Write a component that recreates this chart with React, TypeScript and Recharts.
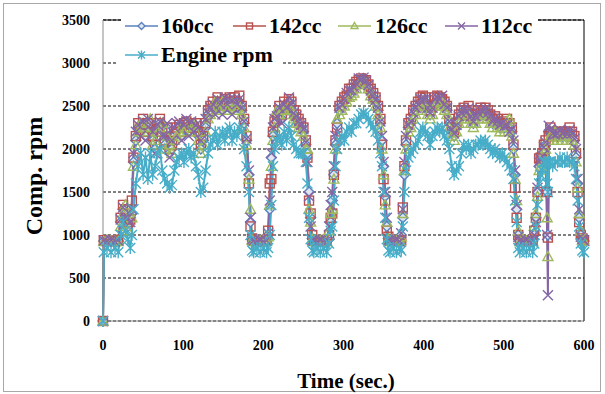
import React from 'react';
import { LineChart, Line, XAxis, YAxis, CartesianGrid, ReferenceLine } from 'recharts';

// time axis (sec.), denser around the ramps
const timeSec = [
  0, 1, 5, 10, 15, 19, 22, 25, 28, 31,
  34, 36, 38, 41, 44, 47, 50, 53, 56, 59,
  62, 65, 68, 71, 74, 77, 80, 83, 86, 89,
  92, 95, 98, 101, 104, 107, 110, 113, 116, 119,
  122, 125, 128, 131, 134, 137, 140, 143, 146, 149,
  152, 155, 158, 161, 164, 167, 170, 173, 176, 179,
  182, 184, 186, 188, 192, 196, 200, 204, 206, 208,
  210, 212, 214, 217, 220, 223, 226, 229, 232, 235,
  238, 241, 244, 247, 250, 253, 255, 257, 259, 261,
  263, 267, 271, 275, 279, 282, 284, 286, 288, 290,
  292, 295, 298, 301, 304, 307, 310, 313, 316, 319,
  322, 325, 328, 331, 334, 337, 340, 343, 346, 348,
  350, 352, 354, 356, 358, 362, 366, 370, 372, 374,
  376, 378, 381, 384, 387, 390, 393, 396, 399, 402,
  405, 408, 411, 414, 417, 420, 423, 426, 429, 432,
  435, 438, 441, 444, 447, 450, 453, 456, 459, 462,
  465, 468, 471, 474, 477, 480, 483, 486, 489, 492,
  495, 498, 501, 504, 507, 510, 512, 514, 516, 518,
  520, 524, 528, 532, 536, 538, 540, 542, 544, 546,
  548, 550, 552, 554, 555, 556, 558, 561, 564, 567,
  570, 573, 576, 579, 582, 585, 588, 590, 592, 594,
  596, 598, 600,
];

const comp160 = [
  0, 930, 935, 925, 940, 930, 1150, 1300, 1250, 1100,
  1200, 1250, 1850, 2100, 2250, 2200, 2300, 2150, 2250, 2300,
  2100, 2000, 2250, 2300, 2250, 2050, 2200, 1950, 2000, 2150,
  2200, 2250, 2150, 2250, 2300, 2200, 2250, 2300, 2250, 2150,
  2000, 2100, 2250, 2400, 2450, 2500, 2450, 2550, 2500, 2450,
  2550, 2500, 2550, 2450, 2550, 2500, 2550, 2450, 2300, 2100,
  1700, 1150, 950, 930, 935, 925, 940, 930, 1000, 1300,
  1900, 2150, 2300, 2400, 2450, 2350, 2500, 2450, 2550, 2500,
  2400, 2350, 2300, 2250, 2200, 2050, 1950, 1500, 1200, 960,
  930, 935, 925, 940, 930, 950, 1150, 1400, 1700, 2050,
  2300, 2450, 2500, 2550, 2600, 2650, 2650, 2700, 2750, 2780,
  2800, 2820, 2780, 2720, 2650, 2600, 2550, 2450, 2300, 2100,
  1800, 1450, 1100, 960, 930, 935, 925, 940, 1000, 1200,
  1700, 2050, 2250, 2300, 2400, 2450, 2500, 2550, 2600, 2550,
  2450, 2400, 2450, 2550, 2600, 2550, 2600, 2500, 2450, 2300,
  2200, 2150, 2250, 2350, 2400, 2450, 2400, 2450, 2350, 2300,
  2350, 2400, 2450, 2400, 2450, 2400, 2350, 2300, 2350, 2300,
  2250, 2300, 2250, 2300, 2250, 2200, 2000, 1700, 1300, 1000,
  930, 935, 925, 940, 930, 1000, 1200, 1500, 1800, 1850,
  1900, 2000, 2050, 1500, 1000, 2200, 2200, 2150, 2200, 2150,
  2200, 2150, 2180, 2150, 2200, 2150, 2100, 1900, 1600, 1200,
  1000, 950, 930,
];

const comp142 = [
  0, 940, 930, 935, 930, 945, 1200, 1350, 1300, 1150,
  1180, 1400, 1900, 2150, 2300, 2250, 2350, 2200, 2300, 2250,
  2150, 2050, 2300, 2350, 2200, 2100, 2250, 2000, 2050, 2200,
  2250, 2280, 2200, 2300, 2320, 2250, 2300, 2250, 2300, 2200,
  2050, 2150, 2300, 2450, 2500, 2550, 2500, 2600, 2550, 2500,
  2580, 2550, 2600, 2500, 2600, 2550, 2620, 2500, 2350, 2150,
  1600, 1100, 960, 940, 930, 935, 930, 945, 1050, 1600,
  1650, 2200, 2320, 2350, 2500, 2400, 2550, 2500, 2580, 2550,
  2450, 2400, 2350, 2300, 2250, 2100, 1900, 1400, 1250, 1000,
  940, 930, 935, 930, 945, 1000, 1200, 1250, 1700, 2100,
  2250, 2500, 2550, 2600, 2620, 2700, 2700, 2750, 2780, 2800,
  2820, 2800, 2800, 2750, 2700, 2650, 2600, 2500, 2350, 2050,
  1650, 1400, 1050, 980, 940, 930, 935, 930, 940, 1320,
  1800, 2100, 2300, 2350, 2450, 2500, 2550, 2600, 2620, 2600,
  2500, 2450, 2500, 2600, 2620, 2600, 2580, 2550, 2500, 2350,
  2250, 2200, 2300, 2400, 2450, 2480, 2450, 2500, 2400, 2350,
  2400, 2450, 2480, 2450, 2480, 2450, 2400, 2350, 2380, 2350,
  2300, 2320, 2300, 2350, 2300, 2250, 2050, 1550, 1200, 1000,
  940, 930, 935, 930, 945, 1050, 1200, 1500, 1890, 1900,
  1950, 2050, 2100, 1500, 970, 2150, 2250, 2200, 2150, 2200,
  2180, 2200, 2200, 2200, 2250, 2200, 2150, 1950, 1500, 1150,
  1000, 960, 940,
];

const comp126 = [
  0, 925, 940, 930, 935, 925, 1100, 1250, 1350, 1050,
  1250, 1200, 1800, 2050, 2200, 2300, 2250, 2250, 2200, 2350,
  2050, 2100, 2200, 2250, 2300, 2000, 2150, 2050, 1950, 2100,
  2150, 2200, 2250, 2200, 2250, 2300, 2200, 2280, 2200, 2100,
  1950, 2050, 2200, 2350, 2400, 2450, 2550, 2500, 2450, 2550,
  2500, 2450, 2500, 2550, 2500, 2450, 2500, 2400, 2250, 2050,
  1650, 1300, 940, 925, 940, 930, 935, 925, 980, 1350,
  1800, 2100, 2250, 2450, 2400, 2450, 2450, 2400, 2500, 2450,
  2350, 2300, 2250, 2200, 2150, 2000, 2000, 1300, 1150, 950,
  925, 940, 930, 935, 925, 1050, 1250, 1300, 1650, 2000,
  2350, 2400, 2450, 2500, 2550, 2600, 2620, 2650, 2700, 2750,
  2780, 2780, 2750, 2700, 2620, 2580, 2500, 2400, 2250, 2000,
  1700, 1350, 1150, 950, 925, 940, 930, 935, 980, 1250,
  1750, 2000, 2200, 2250, 2350, 2400, 2450, 2500, 2550, 2500,
  2400, 2350, 2400, 2500, 2550, 2500, 2550, 2450, 2400, 2250,
  2150, 2100, 2200, 2300, 2350, 2400, 2350, 2400, 2300, 2250,
  2300, 2350, 2400, 2350, 2400, 2350, 2300, 2250, 2300, 2250,
  2200, 2250, 2200, 2320, 2350, 2150, 1950, 1650, 1400, 1050,
  925, 940, 930, 935, 925, 1100, 1250, 1450, 1750, 1800,
  1850, 1950, 2000, 1200, 750, 2100, 2150, 2100, 2200, 2100,
  2150, 2100, 2150, 2100, 2150, 2100, 2050, 1850, 1550, 1250,
  1050, 940, 925,
];

const comp112 = [
  0, 935, 925, 940, 925, 935, 1180, 1320, 1200, 1200,
  1150, 1300, 1950, 2200, 2280, 2150, 2320, 2100, 2350, 2280,
  2200, 1950, 2280, 2320, 2150, 2150, 2300, 1900, 2100, 2250,
  2300, 2320, 2100, 2280, 2350, 2150, 2320, 2200, 2280, 2250,
  2100, 2200, 2350, 2420, 2480, 2520, 2400, 2580, 2520, 2400,
  2600, 2520, 2580, 2400, 2580, 2520, 2580, 2480, 2320, 2120,
  1750, 1200, 950, 935, 925, 940, 925, 935, 1020, 1400,
  1950, 2250, 2350, 2380, 2480, 2300, 2520, 2480, 2600, 2520,
  2420, 2380, 2320, 2280, 2230, 2080, 1850, 1450, 1100, 940,
  935, 925, 940, 925, 935, 1100, 1350, 1500, 1800, 2150,
  2200, 2480, 2520, 2580, 2650, 2680, 2680, 2720, 2760, 2820,
  2810, 2830, 2790, 2740, 2680, 2620, 2570, 2480, 2320, 2150,
  1850, 1500, 1200, 940, 935, 925, 940, 925, 1020, 1300,
  1850, 2150, 2280, 2320, 2420, 2480, 2520, 2580, 2580, 2580,
  2480, 2420, 2480, 2580, 2600, 2580, 2620, 2520, 2480, 2320,
  2230, 2180, 2280, 2380, 2420, 2470, 2420, 2470, 2380, 2320,
  2380, 2420, 2460, 2430, 2470, 2420, 2380, 2320, 2360, 2320,
  2280, 2300, 2270, 2280, 2200, 2230, 2100, 1750, 1350, 980,
  935, 925, 940, 925, 935, 1000, 1150, 1550, 1850, 1880,
  1920, 2020, 2080, 1000, 300, 2270, 2230, 2180, 2170, 2180,
  2220, 2180, 2200, 2170, 2220, 2180, 2120, 2000, 1650, 1300,
  980, 950, 935,
];

const engineRpm = [
  0, 800, 850, 800, 850, 800, 1000, 1150, 1050, 950,
  850, 1000, 1300, 1600, 1800, 1950, 1700, 1900, 1650, 1950,
  1700, 1800, 1950, 2000, 1750, 1650, 1600, 1550, 1580, 1750,
  1850, 1900, 1950, 1850, 1950, 2000, 1900, 1950, 1800, 1700,
  1500, 1550, 1750, 1950, 2050, 2100, 2200, 2050, 2150, 2200,
  2100, 2200, 2250, 2100, 2200, 2150, 2250, 2200, 2000, 1800,
  1500, 1000, 820, 800, 850, 800, 850, 800, 850, 1000,
  1350, 1800, 2000, 2100, 2150, 2050, 2200, 2100, 2250, 2150,
  2050, 2000, 1950, 1950, 1950, 1850, 1600, 1200, 950, 820,
  800, 850, 800, 850, 800, 900, 1050, 1100, 1400, 1800,
  2000, 2100, 2150, 2100, 2200, 2250, 2200, 2300, 2300, 2350,
  2400, 2420, 2400, 2350, 2300, 2250, 2200, 2100, 1950, 1800,
  1500, 1200, 950, 820, 800, 850, 800, 850, 820, 1100,
  1500, 1750, 1900, 1950, 2000, 2050, 2100, 2200, 2250, 2200,
  2150, 2050, 2150, 2200, 2250, 2200, 2250, 2150, 2100, 2000,
  1800, 1700, 1750, 1800, 1950, 2050, 2000, 2050, 1950, 2000,
  2050, 2050, 2100, 2050, 2100, 2050, 2000, 1950, 2000, 1950,
  1900, 1950, 1900, 1850, 1800, 1750, 1650, 1400, 1150, 850,
  800, 850, 800, 850, 800, 900, 1100, 1350, 1600, 1700,
  1750, 1850, 1850, 1600, 1500, 1850, 1850, 1800, 1850, 1850,
  1900, 1850, 1850, 1900, 1850, 1850, 1800, 1650, 1400, 1100,
  900, 820, 800,
];

const xTicks = [0, 100, 200, 300, 400, 500, 600];
const yTicks = [0, 500, 1000, 1500, 2000, 2500, 3000, 3500];

const chartData = timeSec.map((t, i) => ({
  t,
  c160: comp160[i],
  c142: comp142[i],
  c126: comp126[i],
  c112: comp112[i],
  eng: engineRpm[i],
}));

const FONT = '"Liberation Serif", "Times New Roman", serif';

type Shape = 'diamond' | 'square' | 'triangle' | 'cross' | 'star';

const series: { key: string; name: string; color: string; shape: Shape }[] = [
  { key: 'c160', name: '160cc', color: '#5b80bf', shape: 'diamond' },
  { key: 'c142', name: '142cc', color: '#b9504d', shape: 'square' },
  { key: 'c126', name: '126cc', color: '#9fba5c', shape: 'triangle' },
  { key: 'c112', name: '112cc', color: '#8466a6', shape: 'cross' },
  { key: 'eng', name: 'Engine rpm', color: '#47adc8', shape: 'star' },
];

const marker = (shape: Shape, color: string, cx: number, cy: number, key?: string, s = 5) => {
  const sw = 1.4;
  switch (shape) {
    case 'diamond':
      return (
        <path key={key} d={`M${cx},${cy - s}L${cx + s},${cy}L${cx},${cy + s}L${cx - s},${cy}Z`}
          fill="#dfe6f3" stroke={color} strokeWidth={sw} />
      );
    case 'square':
      return <rect key={key} x={cx - s + 0.5} y={cy - s + 0.5} width={2 * s - 1} height={2 * s - 1} fill="none" stroke={color} strokeWidth={sw} />;
    case 'triangle':
      return (
        <path key={key} d={`M${cx},${cy - s}L${cx + s},${cy + s - 1}L${cx - s},${cy + s - 1}Z`}
          fill="none" stroke={color} strokeWidth={sw} />
      );
    case 'cross':
      return (
        <path key={key} d={`M${cx - s},${cy - s}L${cx + s},${cy + s}M${cx - s},${cy + s}L${cx + s},${cy - s}`}
          stroke={color} strokeWidth={sw} fill="none" />
      );
    default:
      return (
        <path key={key}
          d={`M${cx - s},${cy - s}L${cx + s},${cy + s}M${cx - s},${cy + s}L${cx + s},${cy - s}M${cx},${cy - s - 1}L${cx},${cy + s + 1}`}
          stroke={color} strokeWidth={sw} fill="none" />
      );
  }
};

const makeDot = (shape: Shape, color: string) => (props: any) => {
  const { cx, cy, index } = props;
  if (cx == null || cy == null) return <g key={`${shape}-${index}`} />;
  return marker(shape, color, cx, cy, `${shape}-${index}`);
};

const YTitle = () => (
  <text x={42} y={176} transform="rotate(-90 42 176)" textAnchor="middle"
    style={{ fontFamily: FONT, fontWeight: 'bold', fontSize: 24, fill: '#000' }}>
    Comp. rpm
  </text>
);

const XTitle = () => (
  <text x={346} y={388} textAnchor="middle"
    style={{ fontFamily: FONT, fontWeight: 'bold', fontSize: 21, fill: '#000' }}>
    Time (sec.)
  </text>
);

// legend positions
const legendSlots = [
  { sx: 125, tx: 161, row: 0 },
  { sx: 233, tx: 269, row: 0 },
  { sx: 338, tx: 375, row: 0 },
  { sx: 445, tx: 481, row: 0 },
  { sx: 125, tx: 161, row: 1 },
];

const ChartLegend = () => (
  <svg width={605} height={80} style={{ position: 'absolute', left: 0, top: 0, pointerEvents: 'none' }}>
    <rect x={121} y={10} width={417} height={31} fill="#fff" />
    <rect x={116} y={41} width={167} height={29} fill="#fff" />
    {series.map((s, i) => {
      const slot = legendSlots[i];
      const ly = slot.row === 0 ? 26 : 55;
      const by = slot.row === 0 ? 33 : 62;
      return (
        <g key={s.key}>
          <line x1={slot.sx} x2={slot.sx + 33} y1={ly} y2={ly} stroke={s.color} strokeWidth={1.5} />
          {marker(s.shape, s.color, slot.sx + 16.5, ly, undefined, 3.5)}
          <text x={slot.tx} y={by} style={{ fontFamily: FONT, fontWeight: 'bold', fontSize: 22, fill: '#000' }}>
            {s.name}
          </text>
        </g>
      );
    })}
  </svg>
);

const tickStyle = { fontFamily: FONT, fontWeight: 'bold' as const, fontSize: 14, fill: '#000' };

export default function App() {
  return (
    <div style={{ position: 'absolute', left: 0, top: 0, width: 605, height: 394, background: '#fff' }}>
      <div style={{ position: 'absolute', left: 3, top: 3, width: 598, height: 389, border: '1px solid #a8a8a8', boxSizing: 'border-box' }} />
      <div style={{ position: 'absolute', left: 0, top: 0 }}>
        <LineChart width={605} height={394} data={chartData} margin={{ top: 20, right: 21, bottom: 43, left: 0 }}>
          <CartesianGrid vertical={false} stroke="#000" strokeDasharray="3 2" />
          <XAxis
            dataKey="t"
            type="number"
            domain={[0, 600]}
            ticks={xTicks}
            height={30}
            tick={tickStyle}
            tickLine={false}
            tickMargin={13}
            axisLine={{ stroke: '#8c8c8c' }}
            label={<XTitle />}
          />
          <YAxis
            type="number"
            domain={[0, 3500]}
            ticks={yTicks}
            width={103}
            tick={tickStyle}
            tickLine={false}
            tickMargin={7}
            axisLine={{ stroke: '#8c8c8c' }}
            label={<YTitle />}
          />
          <ReferenceLine y={3500} stroke="#000" />
          <ReferenceLine x={600} stroke="#000" />
          {series.map((s) => (
            <Line
              key={s.key}
              dataKey={s.key}
              type="linear"
              stroke={s.color}
              strokeWidth={2}
              dot={makeDot(s.shape, s.color)}
              activeDot={false}
              isAnimationActive={false}
            />
          ))}
        </LineChart>
      </div>
      <ChartLegend />
    </div>
  );
}
